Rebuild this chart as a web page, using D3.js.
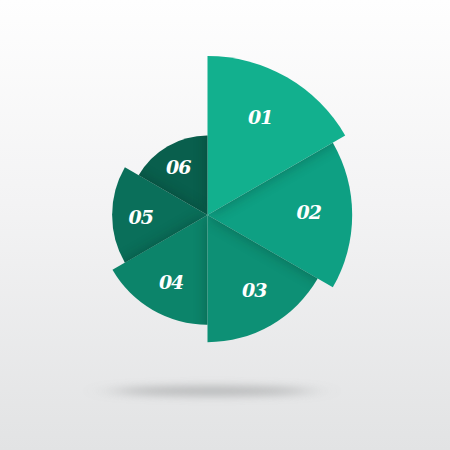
<!DOCTYPE html>
<html>
<head>
<meta charset="utf-8">
<script src="https://cdn.jsdelivr.net/npm/d3@7"></script>
<style>
  html, body { margin: 0; padding: 0; background: #fff; }
  svg { display: block; }
</style>
</head>
<body>
<svg id="chart"></svg>
<script>
// sector labels, clockwise from 12 o'clock
let labels = ['01', '02', '03', '04', '05', '06'];
// relative length of each sector
let values = [100, 91, 80, 69, 60, 50];
let colors = ['#12b08e', '#0ea083', '#0d9075', '#0c846a', '#0a6f5a', '#095f4d'];
// which neighbour lays its shadow on each sector
let shadowFrom = [[], [0], [1], [2], [3], [0, 4]];

let width = 450, height = 450;
let cx = 207.5, cy = 215;

let svg = d3.select('#chart')
    .attr('width', width)
    .attr('height', height);

let defs = svg.append('defs');

let bg = defs.append('linearGradient')
    .attr('id', 'bg')
    .attr('x1', 0).attr('y1', 0).attr('x2', 0).attr('y2', 1);
bg.append('stop').attr('offset', '0%').attr('stop-color', '#fefefe');
bg.append('stop').attr('offset', '45%').attr('stop-color', '#f3f3f4');
bg.append('stop').attr('offset', '100%').attr('stop-color', '#e2e3e4');

defs.append('filter')
    .attr('id', 'soft')
    .attr('x', '-50%').attr('y', '-50%').attr('width', '200%').attr('height', '200%')
    .append('feGaussianBlur')
    .attr('stdDeviation', 7);

defs.append('filter')
    .attr('id', 'floor')
    .attr('x', '-50%').attr('y', '-300%').attr('width', '200%').attr('height', '700%')
    .append('feGaussianBlur')
    .attr('stdDeviation', '16 4');

svg.append('rect')
    .attr('width', width)
    .attr('height', height)
    .attr('fill', 'url(#bg)');

// floor shadow under the chart
svg.append('ellipse')
    .attr('cx', 212)
    .attr('cy', 391)
    .attr('rx', 100)
    .attr('ry', 5)
    .attr('fill', '#a9aaab')
    .attr('opacity', 0.75)
    .attr('filter', 'url(#floor)');

let rScale = d3.scaleLinear()
    .domain([0, 100])
    .range([0, 159]);

let pie = d3.pie()
    .value(function () { return 1; })
    .sort(null);

let slices = pie(values).map(function (d, i) {
    d.label = labels[i];
    d.r = rScale(values[i]);
    return d;
});

let arc = d3.arc()
    .innerRadius(0)
    .outerRadius(function (d) { return d.r; });

let g = svg.append('g')
    .attr('transform', 'translate(' + cx + ',' + cy + ')');

slices.forEach(function (d, i) {
    defs.append('clipPath')
        .attr('id', 'clip' + i)
        .append('path')
        .attr('d', arc(d));
});

let sector = g.selectAll('g.sector')
    .data(slices)
    .enter()
    .append('g')
    .attr('class', 'sector');

sector.append('path')
    .attr('d', arc)
    .attr('fill', function (d, i) { return colors[i]; });

sector.each(function (d, i) {
    let sg = d3.select(this).append('g')
        .attr('clip-path', 'url(#clip' + i + ')');
    shadowFrom[i].forEach(function (j) {
        sg.append('path')
            .attr('d', arc(slices[j]))
            .attr('fill', '#02261e')
            .attr('opacity', 0.35)
            .attr('filter', 'url(#soft)');
    });
});

sector.append('text')
    .attr('transform', function (d) {
        let a = (d.startAngle + d.endAngle) / 2 - 0.03;
        let r = d.r * 0.7;
        return 'translate(' + (Math.sin(a) * r) + ',' + (-Math.cos(a) * r) + ')';
    })
    .attr('text-anchor', 'middle')
    .attr('dy', '0.35em')
    .style('font-family', '"DejaVu Serif", serif')
    .style('font-style', 'italic')
    .style('font-weight', 'bold')
    .style('font-size', '19px')
    .style('letter-spacing', '-1px')
    .style('fill', '#ffffff')
    .text(function (d) { return d.label; });
</script>
</body>
</html>
